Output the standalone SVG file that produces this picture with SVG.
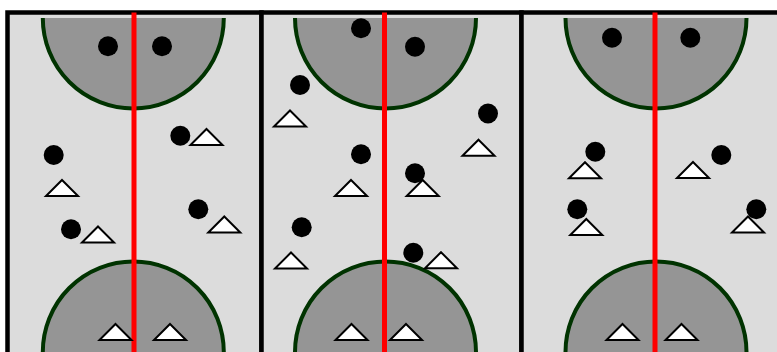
<svg xmlns="http://www.w3.org/2000/svg" xmlns:xlink="http://www.w3.org/1999/xlink" width="777" height="352" viewBox="0 0 777 352">
  <style>
    .panel { fill: #dcdcdc; stroke: #000000; stroke-width: 4.5; }
    .zone { fill: #959595; stroke: #003300; stroke-width: 4; }
    .axis { stroke: #ff0000; stroke-width: 5; fill: none; }
    .dot { fill: #000000; }
    .tri { fill: #ffffff; stroke: #000000; stroke-width: 2; stroke-linejoin: miter; }
  </style>
  <defs>
    <circle id="d" r="10" class="dot"/>
    <path id="t" d="M0,0 L16,16 L-16,16 Z" class="tri"/>
  </defs>
  <rect width="777" height="352" fill="#ffffff"/>

  <g id="panel1">
    <rect class="panel" x="7.5" y="12.5" width="254" height="400"/>
    <path class="zone" d="M42.8,18 A90.5,90.5 0 0 0 223.8,18"/>
    <circle class="zone" cx="133.3" cy="352" r="90.5"/>
    <line class="axis" x1="134" y1="12.5" x2="134" y2="352"/>
  </g>
  <g id="panel2">
    <rect class="panel" x="261.5" y="12.5" width="260" height="400"/>
    <path class="zone" d="M295,18 A90.5,90.5 0 0 0 476,18"/>
    <circle class="zone" cx="385.5" cy="352" r="90.5"/>
    <line class="axis" x1="384.5" y1="12.5" x2="384.5" y2="352"/>
  </g>
  <g id="panel3">
    <rect class="panel" x="521.5" y="12.5" width="300" height="400"/>
    <path class="zone" d="M565.5,18 A90.5,90.5 0 0 0 746.5,18"/>
    <circle class="zone" cx="656" cy="352" r="90.5"/>
    <line class="axis" x1="655" y1="12.5" x2="655" y2="352"/>
  </g>

  <g id="players1">
    <g id="p1d1"><use xlink:href="#d" x="108" y="46.3"/></g>
    <g id="p1d2"><use xlink:href="#d" x="162" y="46.3"/></g>
    <g id="p1d3"><use xlink:href="#d" x="53.7" y="155"/></g>
    <g id="p1d4"><use xlink:href="#d" x="180.3" y="135.7"/></g>
    <g id="p1d5"><use xlink:href="#d" x="198.3" y="209.3"/></g>
    <g id="p1d6"><use xlink:href="#d" x="71" y="229.3"/></g>
    <g id="p1t1"><use xlink:href="#t" x="62" y="180"/></g>
    <g id="p1t2"><use xlink:href="#t" x="206.5" y="129"/></g>
    <g id="p1t3"><use xlink:href="#t" x="224.3" y="216.5"/></g>
    <g id="p1t4"><use xlink:href="#t" x="98" y="226.5"/></g>
    <g id="p1t5"><use xlink:href="#t" x="115.5" y="324"/></g>
    <g id="p1t6"><use xlink:href="#t" x="170" y="324"/></g>
  </g>
  <g id="players2">
    <g id="p2d1"><use xlink:href="#d" x="361" y="28.3"/></g>
    <g id="p2d2"><use xlink:href="#d" x="415" y="46.7"/></g>
    <g id="p2d3"><use xlink:href="#d" x="300" y="85"/></g>
    <g id="p2d4"><use xlink:href="#d" x="488" y="113.5"/></g>
    <g id="p2d5"><use xlink:href="#d" x="361" y="154.3"/></g>
    <g id="p2d6"><use xlink:href="#d" x="301.7" y="227.3"/></g>
    <g id="p2d7"><use xlink:href="#d" x="415" y="173.3"/></g>
    <g id="p2d8"><use xlink:href="#d" x="413.3" y="252.7"/></g>
    <g id="p2t1"><use xlink:href="#t" x="290" y="110.5"/></g>
    <g id="p2t2"><use xlink:href="#t" x="351" y="180"/></g>
    <g id="p2t3"><use xlink:href="#t" x="478.5" y="139.7"/></g>
    <g id="p2t4"><use xlink:href="#t" x="422.7" y="180"/></g>
    <g id="p2t5"><use xlink:href="#t" x="291" y="252.5"/></g>
    <g id="p2t6"><use xlink:href="#t" x="441" y="252.2"/></g>
    <g id="p2t7"><use xlink:href="#t" x="351.5" y="324"/></g>
    <g id="p2t8"><use xlink:href="#t" x="406" y="324"/></g>
  </g>
  <g id="players3">
    <g id="p3d1"><use xlink:href="#d" x="612" y="37.7"/></g>
    <g id="p3d2"><use xlink:href="#d" x="690.3" y="37.7"/></g>
    <g id="p3d3"><use xlink:href="#d" x="595.3" y="151.7"/></g>
    <g id="p3d4"><use xlink:href="#d" x="721.3" y="155"/></g>
    <g id="p3d5"><use xlink:href="#d" x="577.3" y="209.3"/></g>
    <g id="p3d6"><use xlink:href="#d" x="756.3" y="209.3"/></g>
    <g id="p3t1"><use xlink:href="#t" x="585" y="162.2"/></g>
    <g id="p3t2"><use xlink:href="#t" x="693" y="162"/></g>
    <g id="p3t3"><use xlink:href="#t" x="586.3" y="219"/></g>
    <g id="p3t4"><use xlink:href="#t" x="748" y="216.5"/></g>
    <g id="p3t5"><use xlink:href="#t" x="622.5" y="324"/></g>
    <g id="p3t6"><use xlink:href="#t" x="681.5" y="324"/></g>
  </g>
  <g id="connectors"/>
</svg>
